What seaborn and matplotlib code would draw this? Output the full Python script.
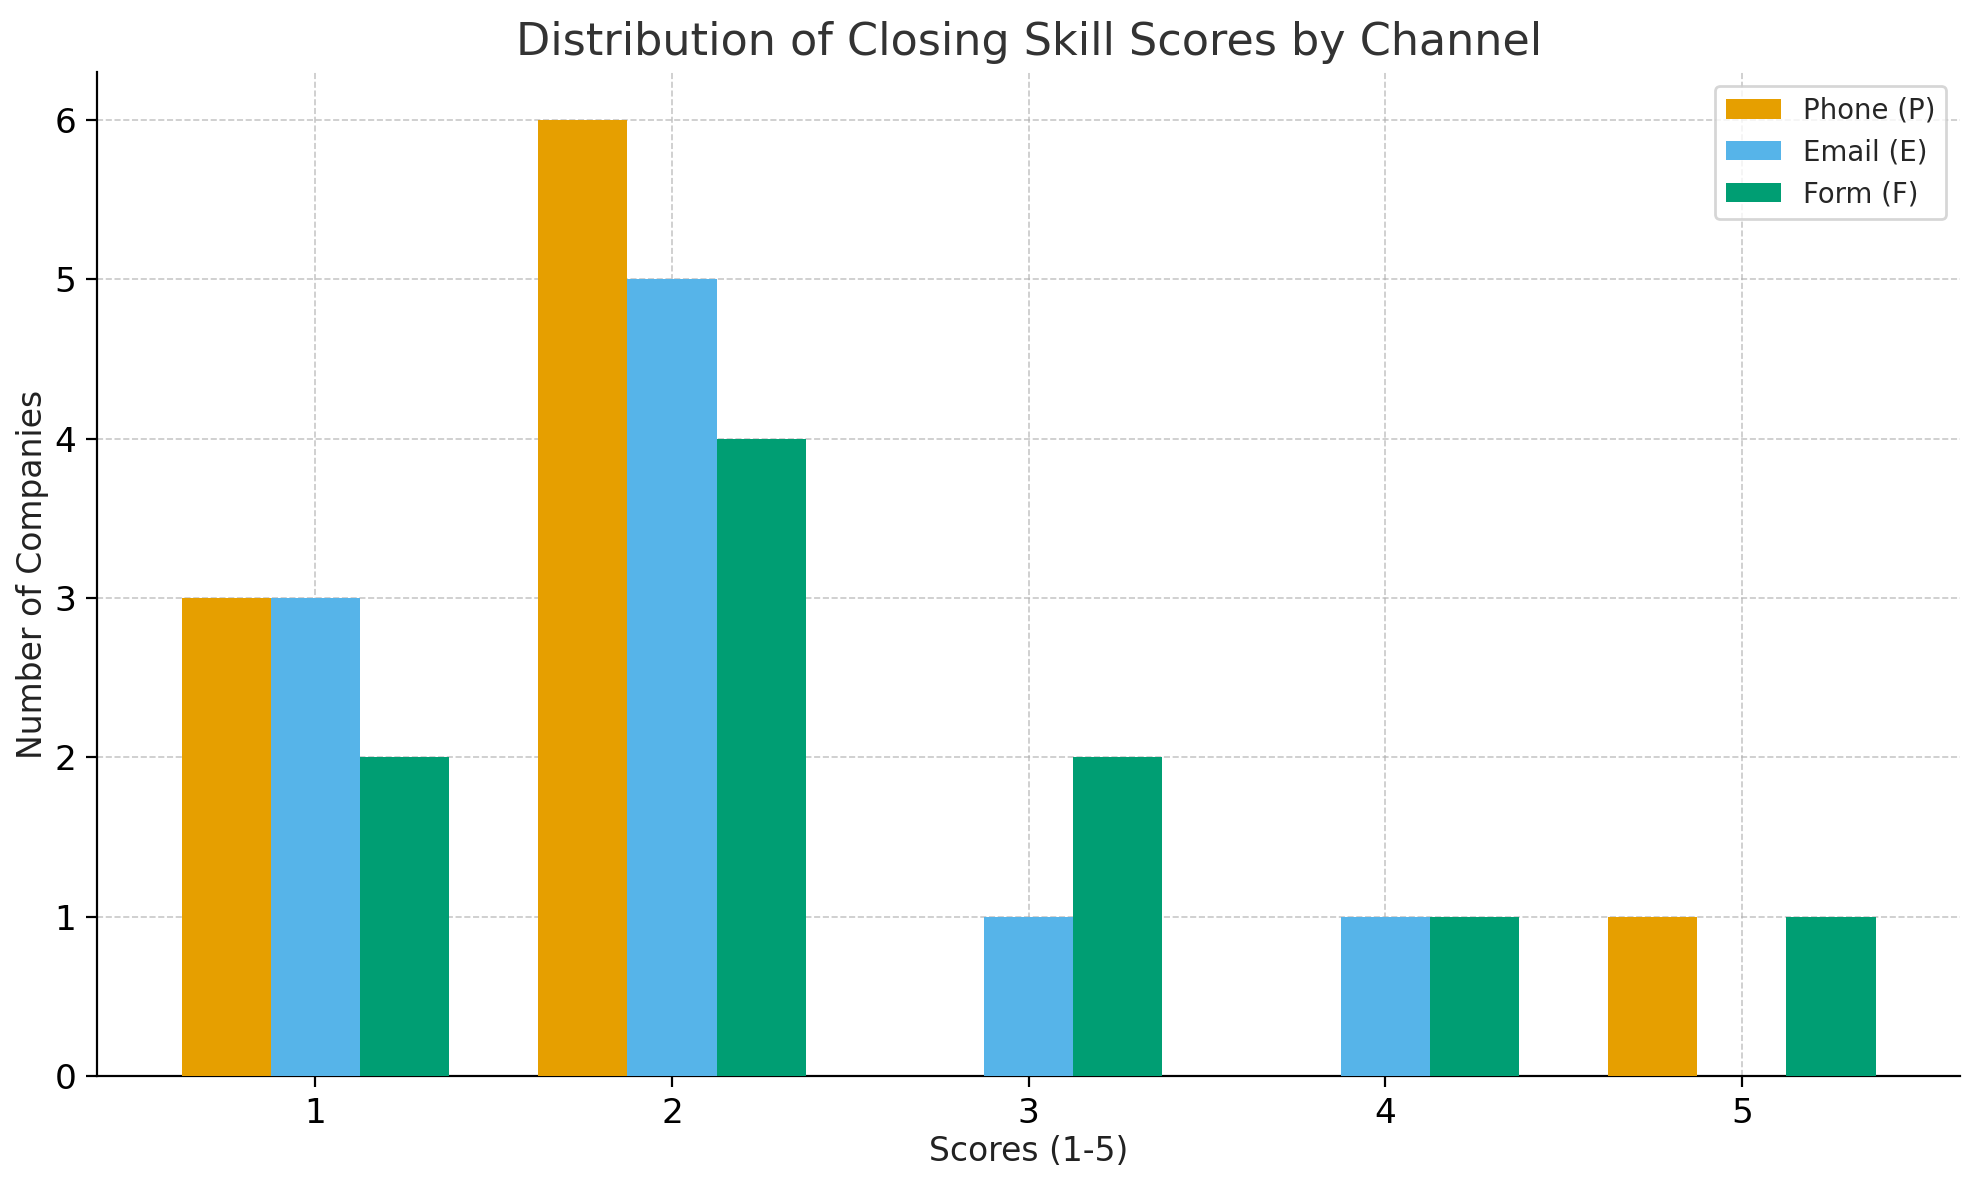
import pandas as pd
import numpy as np
import matplotlib
matplotlib.use('Agg')
import matplotlib.pyplot as plt
import seaborn as sns

# ─── Data ────────────────────────────────────────────────────────────────
scores = [1, 2, 3, 4, 5]
phone = [3, 6, 0, 0, 1]
email = [3, 5, 1, 1, 0]
form = [2, 4, 2, 1, 1]
channels = ['Phone (P)', 'Email (E)', 'Form (F)']
colors = ['#E69F00', '#56B4E9', '#009E73']

df = pd.DataFrame({
    'score': scores * 3,
    'count': phone + email + form,
    'channel': [c for c in channels for _ in scores],
})

sns.set_style('white')
plt.rcParams['font.family'] = ['DejaVu Sans']

fig, ax = plt.subplots(figsize=(10, 5.96), dpi=198)
sns.barplot(data=df, x='score', y='count', hue='channel', hue_order=channels,
            palette=colors, width=0.75, saturation=1, linewidth=0,
            ax=ax, zorder=3)

ax.set_xlim(-0.6125, 4.6125)
ax.grid(True, linestyle='--', color='#b0b0b0', alpha=0.7, linewidth=0.6, zorder=0)
ax.set_axisbelow(True)
ax.spines['top'].set_visible(False)
ax.spines['right'].set_visible(False)
for s in ['left', 'bottom']:
    ax.spines[s].set_color('black')
ax.tick_params(axis='both', labelsize=12.5, length=4, bottom=True, left=True,
               color='black', labelcolor='black')

ax.set_title('Distribution of Closing Skill Scores by Channel', fontsize=16.2, color='#333333')
ax.set_xlabel('Scores (1-5)', fontsize=12, color='#222222', labelpad=2)
ax.set_ylabel('Number of Companies', fontsize=12, color='#222222', labelpad=2)
ax.legend(loc='upper right', fontsize=10, title=None, frameon=True)

fig.subplots_adjust(left=0.049, right=0.990, top=0.939, bottom=0.088)
plt.savefig('out.png', dpi=198)
